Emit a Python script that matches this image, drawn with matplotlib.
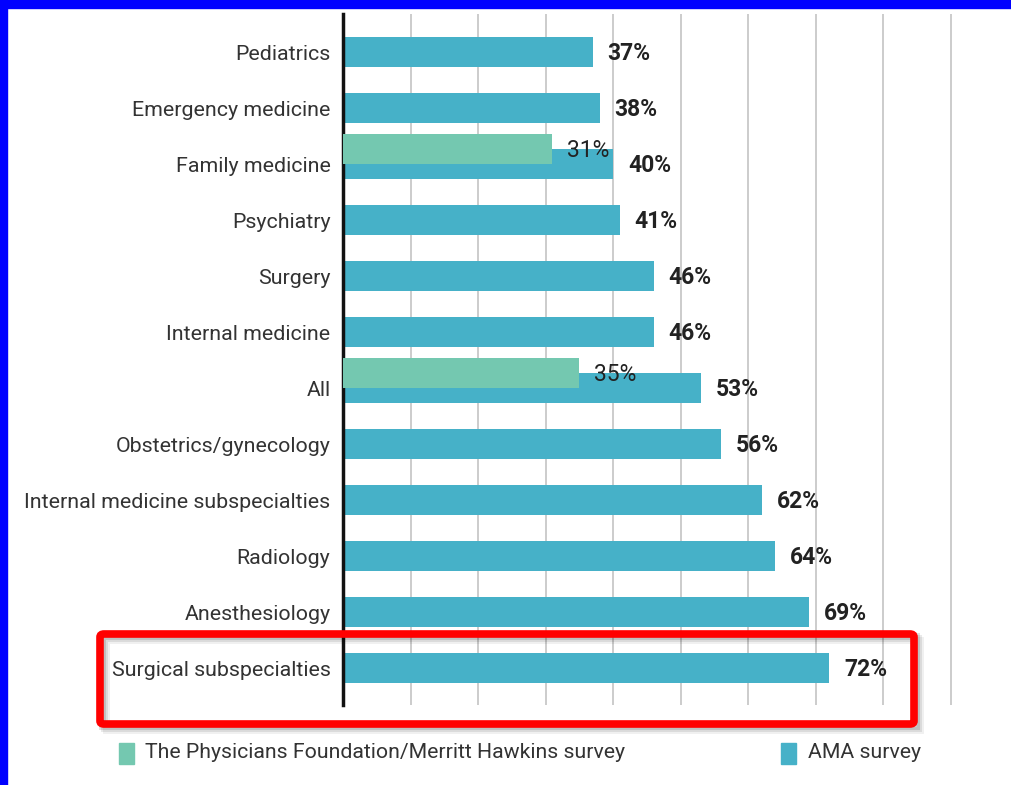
import matplotlib.pyplot as plt
import matplotlib.patches as mpatches

plt.rcParams['font.family'] = ['Roboto', 'DejaVu Sans']

# data
categories = ['Pediatrics', 'Emergency medicine', 'Family medicine', 'Psychiatry',
              'Surgery', 'Internal medicine', 'All', 'Obstetrics/gynecology',
              'Internal medicine subspecialties', 'Radiology', 'Anesthesiology',
              'Surgical subspecialties']
ama = [37, 38, 40, 41, 46, 46, 53, 56, 62, 64, 69, 72]
pf_cats = ['Family medicine', 'All']
pf_vals = [31, 35]

ama_col = '#46b1c8'
pf_col = '#74c8b0'

fig = plt.figure(figsize=(10.12, 7.85), dpi=100)
ax = fig.add_axes([343/1012, 1-705/785, (950-343)/1012 + 0.002, (705-14)/785])

y = list(range(len(categories)))
h = 0.53
ax.barh(y, ama, height=h, color=ama_col, zorder=2)
for yi, v in zip(y, ama):
    ax.text(v + 2.2, yi + 0.03, f'{v}%', va='center', ha='left', fontsize=16.5,
            fontweight='bold', color='#222222')

pf_y = [categories.index(c) - h/2 for c in pf_cats]
ax.barh(pf_y, pf_vals, height=h, color=pf_col, zorder=3)
for yi, v in zip(pf_y, pf_vals):
    ax.text(v + 2.2, yi + 0.03, f'{v}%', va='center', ha='left', fontsize=16.5,
            color='#222222', zorder=4)

ax.set_xlim(0, 90.2)
ax.set_ylim(len(categories) - 1 + 0.66, -0.68)
ax.set_xticks(range(0, 91, 10))
ax.xaxis.grid(True, color='#c4c4c4', linewidth=1.2, zorder=0)
ax.set_axisbelow(True)
ax.set_xticklabels([])
ax.tick_params(axis='x', length=0)
ax.tick_params(axis='y', length=0, pad=9)
ax.set_yticks(y)
ax.set_yticklabels(categories, fontsize=15.4, color='#333333')
for s in ['top', 'right', 'bottom']:
    ax.spines[s].set_visible(False)
ax.spines['left'].set_linewidth(2.5)
ax.spines['left'].set_color('#111111')

W, H = 1012, 785
def px(x0, y0, x1, y1):
    return (x0/W, 1-y1/H, (x1-x0)/W, (y1-y0)/H)

# red highlight box with soft shadow
for k, a in [(6, 0.06), (4, 0.09), (2, 0.12)]:
    l, b, w, hh = px(100 + k, 634 + k, 914 + k, 724 + k)
    fig.patches.append(mpatches.Rectangle((l, b), w, hh, transform=fig.transFigure,
                                          fill=False, edgecolor='black', alpha=a,
                                          linewidth=5))
l, b, w, hh = px(100, 634, 914, 724)
fig.patches.append(mpatches.FancyBboxPatch((l, b), w, hh, transform=fig.transFigure,
                                           boxstyle='round,pad=0,rounding_size=0.004',
                                           fill=False, edgecolor='#ff0000', linewidth=5.5))

# legend
for (x0, x1), col, lab, tx in [((119, 134), pf_col, 'The Physicians Foundation/Merritt Hawkins survey', 145),
                               ((781, 796), ama_col, 'AMA survey', 808)]:
    l, b, w, hh = px(x0, 743, x1, 764)
    fig.patches.append(mpatches.Rectangle((l, b), w, hh, transform=fig.transFigure,
                                          color=col))
    fig.text(tx/W, 1-753/H, lab, fontsize=15.3, va='center', ha='left', color='#333333')

# blue frame edges
l, b, w, hh = px(0, 0, W, 8)
fig.patches.append(mpatches.Rectangle((l, b), w, hh, transform=fig.transFigure, color='#0000ff'))
l, b, w, hh = px(0, 0, 7, H)
fig.patches.append(mpatches.Rectangle((l, b), w, hh, transform=fig.transFigure, color='#0000ff'))

fig.savefig('out.png', dpi=100)
